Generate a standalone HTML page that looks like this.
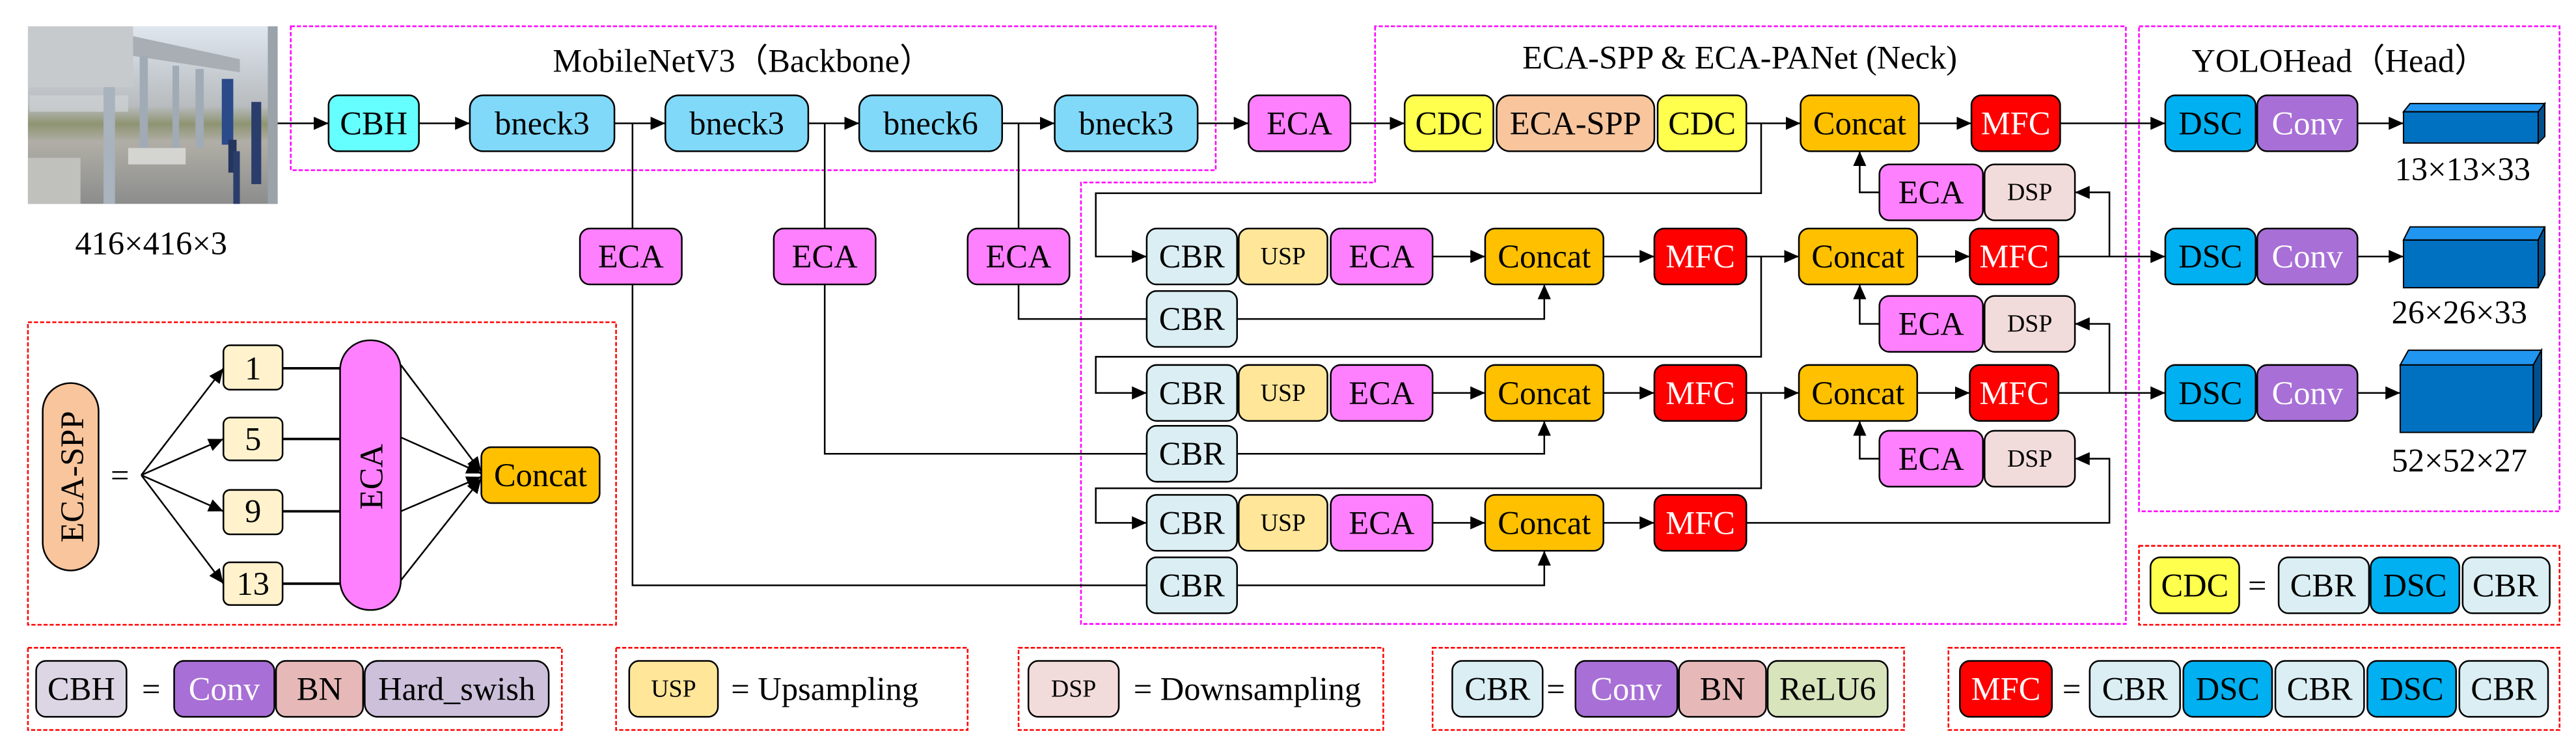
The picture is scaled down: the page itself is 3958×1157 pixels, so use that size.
<!DOCTYPE html>
<html><head><meta charset="utf-8"><style>html,body{margin:0;padding:0;background:#fff}svg{display:block}svg text{font-family:"Liberation Serif","Times New Roman",serif}</style></head><body>
<svg width="3958" height="1157" viewBox="0 0 1568 458" preserveAspectRatio="none" xmlns="http://www.w3.org/2000/svg">
<defs>
<marker id="a" markerWidth="9" markerHeight="8" refX="9" refY="4" orient="auto" markerUnits="userSpaceOnUse"><path d="M0,0L9,4L0,8z" fill="#000"/></marker>
<linearGradient id="sky" x1="0" y1="0" x2="0" y2="1"><stop offset="0" stop-color="#dfe6ee"/><stop offset="0.3" stop-color="#c4c9ce"/><stop offset="0.45" stop-color="#b8bcbe"/><stop offset="0.55" stop-color="#8f9472"/><stop offset="0.65" stop-color="#b0aea6"/><stop offset="1" stop-color="#8c8d8c"/></linearGradient>
</defs>
<style>
.b{stroke:#000;stroke-width:1}
.t{font-size:20px;text-anchor:middle;dominant-baseline:central}
.s{font-size:15px;text-anchor:middle;dominant-baseline:central}
.w{fill:#fff}
.l{fill:none;stroke:#000;stroke-width:1}
.m{fill:none;stroke:#ff00ff;stroke-width:1;stroke-dasharray:2.5,1.2}
.r{fill:none;stroke:#ff0000;stroke-width:1;stroke-dasharray:2.5,1.2}
</style>

<!-- photo -->
<rect x="17" y="16" width="152" height="108" fill="url(#sky)"/>
<rect x="17" y="16" width="64" height="37" fill="#c6cacd"/>
<polygon points="81,22 146,36 146,44 81,34" fill="#a8aeb4"/>
<rect x="18" y="58" width="60" height="10" fill="#d0d3d6" opacity="0.7"/>
<rect x="63" y="53" width="7" height="71" fill="#a9b3bd"/>
<rect x="85" y="34" width="5" height="62" fill="#a0abb6"/>
<rect x="105" y="40" width="4" height="50" fill="#a0abb6"/>
<rect x="119" y="42" width="5" height="48" fill="#a0abb6"/>
<rect x="78" y="90" width="35" height="10" fill="#d4d4d0"/>
<rect x="135" y="48" width="7" height="40" fill="#2b4a8a"/>
<rect x="139" y="85" width="5" height="20" fill="#25365e"/>
<rect x="142" y="92" width="4" height="32" fill="#2b3d6b"/>
<rect x="153" y="62" width="6" height="50" fill="#2b3d6b"/>
<rect x="163" y="16" width="6" height="108" fill="#9aa2aa"/>
<rect x="17" y="96" width="32" height="28" fill="#c0c0bc"/>

<!-- group boxes -->
<rect class="m" x="177" y="16" width="563" height="87.5"/>
<path class="m" d="M837,16 L837,111 L658,111 L658,379.5 L1294,379.5 L1294,16 Z"/>
<rect class="m" x="1302" y="16" width="256" height="295"/>
<rect class="r" x="17" y="196" width="358" height="184"/>
<rect class="r" x="1302" y="332" width="256" height="48"/>
<rect class="r" x="17" y="394" width="325" height="50"/>
<rect class="r" x="375" y="394" width="214" height="50"/>
<rect class="r" x="620" y="394" width="222" height="50"/>
<rect class="r" x="872" y="394" width="287" height="50"/>
<rect class="r" x="1186" y="394" width="372" height="50"/>

<text class="t" x="452" y="37">MobileNetV3（Backbone）</text>
<text class="t" x="1059" y="35">ECA-SPP &amp; ECA-PANet (Neck)</text>
<text class="t" x="1424" y="37">YOLOHead（Head）</text>
<text class="t" x="92" y="148">416×416×3</text>
<text class="t" x="1499" y="103">13×13×33</text>
<text class="t" x="1497" y="190">26×26×33</text>
<text class="t" x="1497" y="280">52×52×27</text>

<!-- connectors -->
<g class="l">
<line x1="169" y1="75" x2="200" y2="75" marker-end="url(#a)"/>
<line x1="255" y1="75" x2="286" y2="75" marker-end="url(#a)"/>
<line x1="374" y1="75" x2="405" y2="75" marker-end="url(#a)"/>
<line x1="492" y1="75" x2="523" y2="75" marker-end="url(#a)"/>
<line x1="610" y1="75" x2="642" y2="75" marker-end="url(#a)"/>
<line x1="729" y1="75" x2="760" y2="75" marker-end="url(#a)"/>
<line x1="822" y1="75" x2="855" y2="75" marker-end="url(#a)"/>
<line x1="1063" y1="75" x2="1096" y2="75" marker-end="url(#a)"/>
<line x1="1168" y1="75" x2="1200" y2="75" marker-end="url(#a)"/>
<line x1="1254" y1="75" x2="1318" y2="75" marker-end="url(#a)"/>
<line x1="1435" y1="75" x2="1463" y2="75" marker-end="url(#a)"/>

<line x1="385" y1="75" x2="385" y2="139"/>
<line x1="502" y1="75" x2="502" y2="139"/>
<line x1="620" y1="75" x2="620" y2="139"/>
<polyline points="385,173 385,356 698,356"/>
<polyline points="502,173 502,276 698,276"/>
<polyline points="620,173 620,194 698,194"/>
<polyline points="753,194 940,194 940,173" marker-end="url(#a)"/>
<polyline points="753,276 940,276 940,256" marker-end="url(#a)"/>
<polyline points="753,356 940,356 940,335" marker-end="url(#a)"/>

<polyline points="1072,75 1072,117.5 667,117.5 667,156 698,156" marker-end="url(#a)"/>
<polyline points="1072,156 1072,217 667,217 667,239 698,239" marker-end="url(#a)"/>
<polyline points="1072,239 1072,297 667,297 667,318 698,318" marker-end="url(#a)"/>

<line x1="872" y1="156" x2="904" y2="156" marker-end="url(#a)"/>
<line x1="976" y1="156" x2="1007" y2="156" marker-end="url(#a)"/>
<line x1="1063" y1="156" x2="1095" y2="156" marker-end="url(#a)"/>
<line x1="1167" y1="156" x2="1199" y2="156" marker-end="url(#a)"/>
<line x1="1253" y1="156" x2="1318" y2="156" marker-end="url(#a)"/>
<line x1="1435" y1="156" x2="1463" y2="156" marker-end="url(#a)"/>

<line x1="872" y1="239" x2="904" y2="239" marker-end="url(#a)"/>
<line x1="976" y1="239" x2="1007" y2="239" marker-end="url(#a)"/>
<line x1="1063" y1="239" x2="1095" y2="239" marker-end="url(#a)"/>
<line x1="1167" y1="239" x2="1199" y2="239" marker-end="url(#a)"/>
<line x1="1253" y1="239" x2="1318" y2="239" marker-end="url(#a)"/>
<line x1="1435" y1="239" x2="1461" y2="239" marker-end="url(#a)"/>

<line x1="872" y1="318" x2="904" y2="318" marker-end="url(#a)"/>
<line x1="976" y1="318" x2="1007" y2="318" marker-end="url(#a)"/>

<polyline points="1284,156 1284,117 1263,117" marker-end="url(#a)"/>
<polyline points="1284,239 1284,197 1263,197" marker-end="url(#a)"/>
<polyline points="1063,318 1284,318 1284,279 1263,279" marker-end="url(#a)"/>
<polyline points="1144,117 1132,117 1132,92" marker-end="url(#a)"/>
<polyline points="1144,197 1132,197 1132,173" marker-end="url(#a)"/>
<polyline points="1144,279 1132,279 1132,256" marker-end="url(#a)"/>

<!-- ECA-SPP legend lines -->
<line x1="86" y1="289" x2="136" y2="224" marker-end="url(#a)"/>
<line x1="86" y1="289" x2="136" y2="267" marker-end="url(#a)"/>
<line x1="86" y1="289" x2="136" y2="311" marker-end="url(#a)"/>
<line x1="86" y1="289" x2="136" y2="355" marker-end="url(#a)"/>
<line x1="172" y1="224" x2="207" y2="224" stroke-width="1.5"/>
<line x1="172" y1="267" x2="207" y2="267" stroke-width="1.5"/>
<line x1="172" y1="311" x2="207" y2="311" stroke-width="1.5"/>
<line x1="172" y1="355" x2="207" y2="355" stroke-width="1.5"/>
<line x1="244" y1="222" x2="293" y2="287" marker-end="url(#a)"/>
<line x1="244" y1="266" x2="293" y2="288" marker-end="url(#a)"/>
<line x1="244" y1="311" x2="293" y2="290" marker-end="url(#a)"/>
<line x1="244" y1="353" x2="293" y2="291" marker-end="url(#a)"/>
</g>

<!-- backbone boxes -->
<g class="b">
<rect x="200" y="58" width="55" height="34" rx="6" fill="#66ffff"/>
<rect x="286" y="58" width="88" height="34" rx="8" fill="#80d9f9"/>
<rect x="405" y="58" width="87" height="34" rx="8" fill="#80d9f9"/>
<rect x="523" y="58" width="87" height="34" rx="8" fill="#80d9f9"/>
<rect x="642" y="58" width="87" height="34" rx="8" fill="#80d9f9"/>
<rect x="760" y="58" width="62" height="34" rx="6" fill="#ff80ff"/>
<rect x="353" y="139" width="62" height="34" rx="6" fill="#ff80ff"/>
<rect x="471" y="139" width="62" height="34" rx="6" fill="#ff80ff"/>
<rect x="589" y="139" width="62" height="34" rx="6" fill="#ff80ff"/>
<rect x="855" y="58" width="54" height="34" rx="6" fill="#ffff4d"/>
<rect x="911" y="58" width="96" height="34" rx="8" fill="#f8c59d"/>
<rect x="1009" y="58" width="54" height="34" rx="6" fill="#ffff4d"/>
<rect x="1096" y="58" width="72" height="34" rx="6" fill="#ffc000"/>
<rect x="1200" y="58" width="54" height="34" rx="6" fill="#ff0000"/>
</g>
<g>
<text class="t" x="227.5" y="75">CBH</text>
<text class="t" x="330" y="75">bneck3</text>
<text class="t" x="448.5" y="75">bneck3</text>
<text class="t" x="566.5" y="75">bneck6</text>
<text class="t" x="685.5" y="75">bneck3</text>
<text class="t" x="791" y="75">ECA</text>
<text class="t" x="384" y="156">ECA</text>
<text class="t" x="502" y="156">ECA</text>
<text class="t" x="620" y="156">ECA</text>
<text class="t" x="882" y="75">CDC</text>
<text class="t" x="959" y="75">ECA-SPP</text>
<text class="t" x="1036" y="75">CDC</text>
<text class="t" x="1132" y="75">Concat</text>
<text class="t w" x="1227" y="75">MFC</text>
</g>

<!-- neck rows 2-4 -->
<g class="b">
<rect x="698" y="139" width="55" height="34" rx="6" fill="#daeef3"/>
<rect x="754" y="139" width="54" height="34" rx="6" fill="#ffe699"/>
<rect x="810" y="139" width="62" height="34" rx="6" fill="#ff80ff"/>
<rect x="904" y="139" width="72" height="34" rx="6" fill="#ffc000"/>
<rect x="1007" y="139" width="56" height="34" rx="6" fill="#ff0000"/>
<rect x="1095" y="139" width="72" height="34" rx="6" fill="#ffc000"/>
<rect x="1199" y="139" width="54" height="34" rx="6" fill="#ff0000"/>
<rect x="698" y="177" width="55" height="34" rx="6" fill="#daeef3"/>

<rect x="698" y="222" width="55" height="34" rx="6" fill="#daeef3"/>
<rect x="754" y="222" width="54" height="34" rx="6" fill="#ffe699"/>
<rect x="810" y="222" width="62" height="34" rx="6" fill="#ff80ff"/>
<rect x="904" y="222" width="72" height="34" rx="6" fill="#ffc000"/>
<rect x="1007" y="222" width="56" height="34" rx="6" fill="#ff0000"/>
<rect x="1095" y="222" width="72" height="34" rx="6" fill="#ffc000"/>
<rect x="1199" y="222" width="54" height="34" rx="6" fill="#ff0000"/>
<rect x="698" y="259" width="55" height="34" rx="6" fill="#daeef3"/>

<rect x="698" y="301" width="55" height="34" rx="6" fill="#daeef3"/>
<rect x="754" y="301" width="54" height="34" rx="6" fill="#ffe699"/>
<rect x="810" y="301" width="62" height="34" rx="6" fill="#ff80ff"/>
<rect x="904" y="301" width="72" height="34" rx="6" fill="#ffc000"/>
<rect x="1007" y="301" width="56" height="34" rx="6" fill="#ff0000"/>
<rect x="698" y="339" width="55" height="34" rx="6" fill="#daeef3"/>

<rect x="1144" y="100" width="63" height="34" rx="6" fill="#ff80ff"/>
<rect x="1208" y="100" width="55" height="34" rx="6" fill="#f2dcdb"/>
<rect x="1144" y="180" width="63" height="34" rx="6" fill="#ff80ff"/>
<rect x="1208" y="180" width="55" height="34" rx="6" fill="#f2dcdb"/>
<rect x="1144" y="262" width="63" height="34" rx="6" fill="#ff80ff"/>
<rect x="1208" y="262" width="55" height="34" rx="6" fill="#f2dcdb"/>

<rect x="1318" y="58" width="55" height="34" rx="6" fill="#00b0f0"/>
<rect x="1374" y="58" width="61" height="34" rx="6" fill="#a86fd6"/>
<rect x="1318" y="139" width="55" height="34" rx="6" fill="#00b0f0"/>
<rect x="1374" y="139" width="61" height="34" rx="6" fill="#a86fd6"/>
<rect x="1318" y="222" width="55" height="34" rx="6" fill="#00b0f0"/>
<rect x="1374" y="222" width="61" height="34" rx="6" fill="#a86fd6"/>
</g>
<g>
<text class="t" x="725.5" y="156">CBR</text><text class="s" x="781" y="156">USP</text><text class="t" x="841" y="156">ECA</text>
<text class="t" x="940" y="156">Concat</text><text class="t w" x="1035" y="156">MFC</text><text class="t" x="1131" y="156">Concat</text><text class="t w" x="1226" y="156">MFC</text>
<text class="t" x="725.5" y="194">CBR</text>
<text class="t" x="725.5" y="239">CBR</text><text class="s" x="781" y="239">USP</text><text class="t" x="841" y="239">ECA</text>
<text class="t" x="940" y="239">Concat</text><text class="t w" x="1035" y="239">MFC</text><text class="t" x="1131" y="239">Concat</text><text class="t w" x="1226" y="239">MFC</text>
<text class="t" x="725.5" y="276">CBR</text>
<text class="t" x="725.5" y="318">CBR</text><text class="s" x="781" y="318">USP</text><text class="t" x="841" y="318">ECA</text>
<text class="t" x="940" y="318">Concat</text><text class="t w" x="1035" y="318">MFC</text>
<text class="t" x="725.5" y="356">CBR</text>
<text class="t" x="1175.5" y="117">ECA</text><text class="s" x="1235.5" y="117">DSP</text>
<text class="t" x="1175.5" y="197">ECA</text><text class="s" x="1235.5" y="197">DSP</text>
<text class="t" x="1175.5" y="279">ECA</text><text class="s" x="1235.5" y="279">DSP</text>
<text class="t" x="1345.5" y="75">DSC</text><text class="t w" x="1404.5" y="75">Conv</text>
<text class="t" x="1345.5" y="156">DSC</text><text class="t w" x="1404.5" y="156">Conv</text>
<text class="t" x="1345.5" y="239">DSC</text><text class="t w" x="1404.5" y="239">Conv</text>
</g>

<!-- cubes -->
<g stroke="#000" stroke-width="0.8">
<polygon points="1463,68 1467,63 1549,63 1545,68" fill="#2196f0"/>
<polygon points="1545,68 1549,63 1549,83 1545,87" fill="#00508f"/>
<rect x="1463" y="68" width="82" height="19" fill="#0070c0"/>
<polygon points="1463,146 1467,138 1549,138 1545,146" fill="#2196f0"/>
<polygon points="1545,146 1549,138 1549,167 1545,175" fill="#00508f"/>
<rect x="1463" y="146" width="82" height="29" fill="#0070c0"/>
<polygon points="1461,222 1466,213 1547,213 1542,222" fill="#2196f0"/>
<polygon points="1542,222 1547,213 1547,253 1542,263" fill="#00508f"/>
<rect x="1461" y="222" width="81" height="41" fill="#0070c0"/>
</g>

<!-- ECA-SPP legend -->
<g class="b">
<rect x="26" y="233" width="34" height="114" rx="17" fill="#f8c59d"/>
<rect x="136" y="210" width="36" height="27" rx="4" fill="#fff2cc"/>
<rect x="136" y="254" width="36" height="26" rx="4" fill="#fff2cc"/>
<rect x="136" y="298" width="36" height="27" rx="4" fill="#fff2cc"/>
<rect x="136" y="342" width="36" height="26" rx="4" fill="#fff2cc"/>
<rect x="207" y="207" width="37" height="164" rx="18" fill="#ff80ff"/>
<rect x="293" y="272" width="72" height="34" rx="6" fill="#ffc000"/>
</g>
<text class="t" transform="translate(44,290) rotate(-90)" x="0" y="0">ECA-SPP</text>
<text class="t" transform="translate(226,290) rotate(-90)" x="0" y="0">ECA</text>
<text class="t" x="73" y="289">=</text>
<text class="t" x="154" y="224">1</text>
<text class="t" x="154" y="267">5</text>
<text class="t" x="154" y="311">9</text>
<text class="t" x="154" y="355">13</text>
<text class="t" x="329" y="289">Concat</text>

<!-- CDC legend -->
<g class="b">
<rect x="1309" y="339" width="54" height="34" rx="6" fill="#ffff4d"/>
<rect x="1387" y="339" width="55" height="34" rx="6" fill="#daeef3"/>
<rect x="1443" y="339" width="54" height="34" rx="6" fill="#00b0f0"/>
<rect x="1499" y="339" width="53" height="34" rx="6" fill="#daeef3"/>
</g>
<text class="t" x="1336" y="356">CDC</text><text class="t" x="1374" y="356">=</text>
<text class="t" x="1414" y="356">CBR</text><text class="t" x="1470" y="356">DSC</text><text class="t" x="1525" y="356">CBR</text>

<!-- bottom legends -->
<g class="b">
<rect x="22" y="402" width="55" height="34" rx="6" fill="#dcd6e4"/>
<rect x="106" y="402" width="61" height="34" rx="6" fill="#a86fd6"/>
<rect x="168" y="402" width="53" height="34" rx="6" fill="#e6b9b8"/>
<rect x="222" y="402" width="112" height="34" rx="8" fill="#ccc0da"/>
<rect x="383" y="402" width="54" height="34" rx="6" fill="#ffe699"/>
<rect x="626" y="402" width="55" height="34" rx="6" fill="#f2dcdb"/>
<rect x="884" y="402" width="55" height="34" rx="6" fill="#daeef3"/>
<rect x="959" y="402" width="62" height="34" rx="6" fill="#a86fd6"/>
<rect x="1022" y="402" width="53" height="34" rx="6" fill="#e6b9b8"/>
<rect x="1076" y="402" width="73" height="34" rx="6" fill="#d8e4bc"/>
<rect x="1193" y="402" width="56" height="34" rx="6" fill="#ff0000"/>
<rect x="1272" y="402" width="55" height="34" rx="6" fill="#daeef3"/>
<rect x="1329" y="402" width="54" height="34" rx="6" fill="#00b0f0"/>
<rect x="1385" y="402" width="54" height="34" rx="6" fill="#daeef3"/>
<rect x="1441" y="402" width="54" height="34" rx="6" fill="#00b0f0"/>
<rect x="1497" y="402" width="54" height="34" rx="6" fill="#daeef3"/>
</g>
<text class="t" x="49.5" y="419">CBH</text><text class="t" x="92" y="419">=</text>
<text class="t w" x="136.5" y="419">Conv</text><text class="t" x="194.5" y="419">BN</text><text class="t" x="278" y="419">Hard_swish</text>
<text class="s" x="410" y="419">USP</text><text class="t" x="445" y="419" style="text-anchor:start">= Upsampling</text>
<text class="s" x="653.5" y="419">DSP</text><text class="t" x="690" y="419" style="text-anchor:start">= Downsampling</text>
<text class="t" x="911.5" y="419">CBR</text><text class="t" x="947" y="419">=</text>
<text class="t w" x="990" y="419">Conv</text><text class="t" x="1048.5" y="419">BN</text><text class="t" x="1112.5" y="419">ReLU6</text>
<text class="t w" x="1221" y="419">MFC</text><text class="t" x="1261" y="419">=</text>
<text class="t" x="1299.5" y="419">CBR</text><text class="t" x="1356" y="419">DSC</text><text class="t" x="1412" y="419">CBR</text><text class="t" x="1468" y="419">DSC</text><text class="t" x="1524" y="419">CBR</text>
</svg>
</body></html>
